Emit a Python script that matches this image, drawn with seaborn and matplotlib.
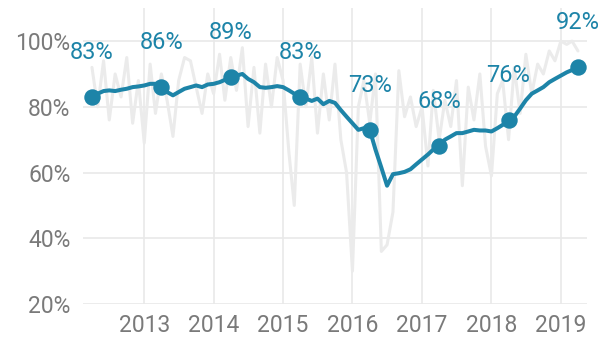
import matplotlib
matplotlib.use("Agg")
import matplotlib.pyplot as plt
import matplotlib.dates as mdates
import matplotlib.ticker as mticker
import numpy as np
import pandas as pd
import seaborn as sns

# Monthly series, April 2012 .. April 2019
months = pd.date_range("2012-04-01", "2019-04-01", freq="MS")

monthly_rate = [
    92, 80, 94, 76, 90, 83, 95, 75, 88, 69, 93, 78,
    90, 82, 71, 88, 95, 94, 86, 78, 90, 84, 96, 82,
    95, 85, 98, 74, 92, 72, 93, 80, 95, 88, 66, 50,
    93, 80, 95, 72, 90, 76, 93, 70, 60, 30, 80, 88,
    75, 90, 36, 38, 48, 91, 77, 83, 74, 80, 62, 85,
    70, 82, 74, 88, 56, 86, 76, 90, 68, 59, 84, 88,
    70, 92, 78, 96, 84, 93, 90, 97, 94, 100, 99, 100,
    97,
]

rolling_rate = [
    83.0, 84.0, 84.8, 85.0, 84.8, 85.2, 85.5, 86.0, 86.2, 86.5, 87.0, 87.0,
    86.0, 84.5, 83.5, 84.5, 85.5, 86.0, 86.5, 86.0, 86.8, 87.0, 87.5, 88.2,
    89.0, 89.5, 90.0, 88.5, 87.5, 86.0, 85.8, 86.0, 86.3, 86.0, 85.0, 84.0,
    83.0, 82.5, 81.8, 82.5, 80.8, 81.8, 81.2, 79.0, 77.0, 75.0, 73.0, 73.5,
    73.0, 67.0, 61.5, 56.0, 59.5, 59.8, 60.2, 61.0, 62.5, 64.0, 65.5, 67.0,
    68.0, 70.0, 71.0, 72.0, 72.0, 72.5, 73.0, 72.8, 72.8, 72.5, 73.5, 74.5,
    76.0, 77.0, 79.5, 82.0, 84.0, 85.0, 86.0, 87.5, 88.5, 89.5, 90.5, 91.2,
    92.0,
]

year_ticks = [2013, 2014, 2015, 2016, 2017, 2018, 2019]
y_ticks = [20, 40, 60, 80, 100]

df = pd.DataFrame({"month": months, "monthly": monthly_rate, "rolling": rolling_rate})
annual = df[df["month"].dt.month == 4]

BLUE = "#1d84a8"
GRID = "#e9e9e9"
TICK = "#7a7a7a"

sns.set_theme(style="whitegrid")
plt.rcParams["font.family"] = ["Roboto", "DejaVu Sans"]

fig = plt.figure(figsize=(6.15, 3.38), dpi=100)
ax = fig.add_axes([0.135, 0.1006, 0.819, 0.875])

sns.lineplot(data=df, x="month", y="monthly", ax=ax, color="#ebebeb",
             linewidth=2.2, zorder=2)
sns.lineplot(data=df, x="month", y="rolling", ax=ax, color=BLUE,
             linewidth=2.9, zorder=3)
sns.scatterplot(data=annual, x="month", y="rolling", ax=ax, color=BLUE,
                s=140, linewidth=0, zorder=4)

for m, v in zip(annual["month"], annual["rolling"]):
    ax.annotate(f"{v:.0f}%", (m, v), xytext=(0, 32), textcoords="offset points",
                ha="center", va="center", fontsize=17, color=BLUE, zorder=5)

ax.set_xlim(pd.Timestamp("2012-02-14"), pd.Timestamp("2019-05-17"))
ax.set_ylim(20, 110)
ax.set_xticks([pd.Timestamp(f"{y}-01-01") for y in year_ticks])
ax.xaxis.set_major_formatter(mdates.DateFormatter("%Y"))
ax.set_yticks(y_ticks)
ax.yaxis.set_major_formatter(mticker.FuncFormatter(lambda v, _: f"{v:.0f}%"))

ax.grid(True, color=GRID, linewidth=1.2)
for s in ax.spines.values():
    s.set_visible(False)
ax.tick_params(axis="both", labelsize=16.5, colors=TICK, length=0)
ax.tick_params(axis="y", pad=9)
ax.tick_params(axis="x", pad=7)
ax.set_xlabel("")
ax.set_ylabel("")

fig.savefig("out.png", dpi=100)
